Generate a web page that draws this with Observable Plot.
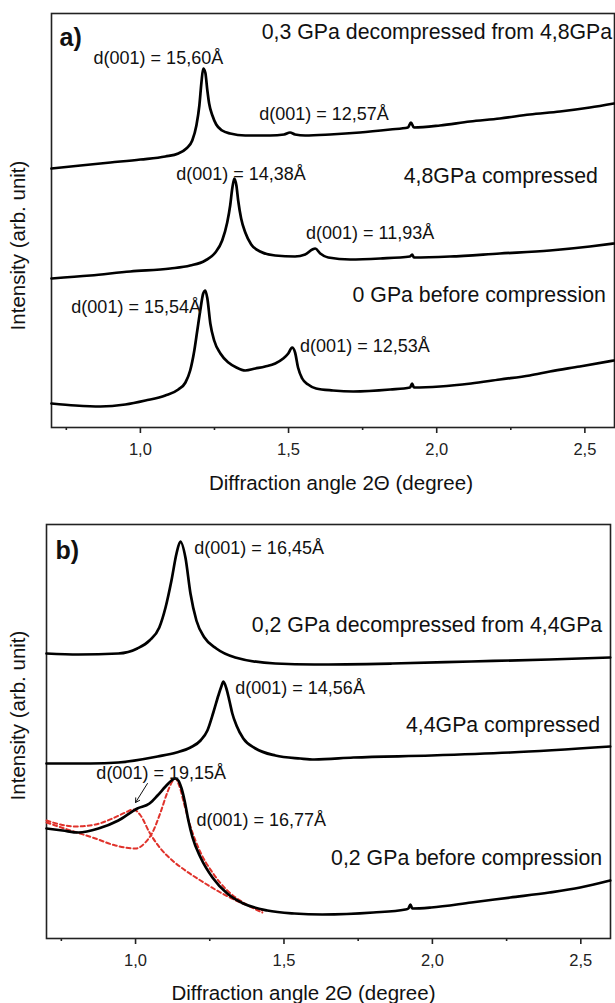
<!DOCTYPE html>
<html>
<head>
<meta charset="utf-8">
<script src="https://cdn.jsdelivr.net/npm/d3@7"></script>
<script src="https://cdn.jsdelivr.net/npm/@observablehq/plot@0.6"></script>
<style>
  html, body { margin: 0; padding: 0; background: #fff; }
  #wrap { position: relative; width: 615px; height: 1003px; overflow: hidden; background: #fff; }
  #pa, #pb { position: absolute; left: 0; }
  #pa { top: 0; }
  #pb { top: 500px; }
</style>
</head>
<body>
<div id="wrap"><div id="pa"></div><div id="pb"></div></div>
<script>
// ---------- Panel a) data : diffraction angle 2θ (degree) vs intensity (arb. unit) ----------
const aDecompX = [0.700,0.798,0.899,1.000,1.084,1.128,1.155,1.175,1.189,1.199,1.206,1.212,1.219,1.226,1.232,1.243,1.256,1.276,1.303,1.354,1.438,1.485,1.505,1.522,1.556,1.640,1.741,1.843,1.903,1.913,1.923,2.011,2.112,2.213,2.314,2.416,2.517,2.598];
const aDecompY = [259,262,265,268,271,274,279,287,302,322,345,359,355,337,324,312,303,297,294,292,292,293,295,293,292,293,295,298,300,305,300,302,306,309,313,316,320,324];

const aCompX = [0.700,0.831,0.966,1.101,1.168,1.219,1.253,1.276,1.293,1.303,1.310,1.317,1.324,1.330,1.340,1.354,1.374,1.404,1.455,1.522,1.556,1.580,1.590,1.607,1.634,1.708,1.809,1.910,1.917,1.923,2.045,2.213,2.382,2.517,2.598];
const aCompY = [149,152,156,159,162,167,175,187,205,222,239,249,242,227,209,195,183,176,172,171,173,178,179,174,170,168,169,171,173,170,171,174,177,181,184];

const aBeforeX = [0.700,0.781,0.865,0.949,1.017,1.084,1.128,1.152,1.168,1.182,1.192,1.202,1.212,1.219,1.226,1.236,1.249,1.270,1.297,1.324,1.354,1.388,1.421,1.455,1.482,1.499,1.512,1.522,1.532,1.546,1.566,1.593,1.650,1.718,1.843,1.910,1.917,1.923,2.011,2.116,2.213,2.314,2.382,2.483,2.598];
const aBeforeY = [24,22,21,23,27,32,38,45,57,77,97,117,134,137,129,104,87,74,65,60,57,59,61,64,69,74,80,75,60,49,43,39,37,36,38,40,44,40,41,44,48,52,56,61,67];

const aPeakText = ["d(001) = 15,60Å","d(001) = 12,57Å","d(001) = 14,38Å","d(001) = 11,93Å","d(001) = 15,54Å","d(001) = 12,53Å"];
const aPeakX = [0.842,1.401,1.121,1.559,0.767,1.539];
const aPeakY = [369,313,253,194,120,81];

const aSampleText = ["0,3 GPa decompressed from 4,8GPa","4,8GPa compressed","0 GPa before compression"];
const aSampleX = [2.592,2.544,2.571];
const aSampleY = [395,251,132];

// ---------- Panel b) data ----------
const bDecompX = [0.700,0.808,0.942,1.006,1.047,1.080,1.101,1.121,1.138,1.151,1.168,1.185,1.205,1.232,1.272,1.336,1.471,1.602,1.865,2.131,2.394,2.599];
const bDecompY = [285,284,285,290,298,311,331,358,385,397,381,345,318,301,290,281,275,274,275,277,279,281];

const bCompX = [0.700,0.848,0.942,1.074,1.138,1.185,1.219,1.242,1.262,1.279,1.289,1.296,1.306,1.316,1.326,1.340,1.363,1.404,1.471,1.555,1.602,1.734,1.996,2.262,2.599];
const bCompY = [175,175,176,182,186,191,198,208,226,243,252,257,250,238,225,213,200,190,183,180,179,181,183,186,192];

const bBeforeX = [0.700,0.754,0.808,0.875,0.942,1.006,1.047,1.074,1.101,1.121,1.134,1.144,1.155,1.165,1.178,1.192,1.219,1.259,1.309,1.363,1.444,1.535,1.629,1.801,1.909,1.919,1.926,1.932,1.996,2.131,2.262,2.394,2.498,2.599];
const bBeforeY = [110,108,106,110,118,130,135,143,152,158,160,158,150,138,118,101,81,61,45,35,28,25,24,26,29,30,34,30,31,36,41,46,51,58];

// fitted components (red dashed)
const bFit1X = [0.700,0.747,0.798,0.865,0.922,0.966,0.993,1.017,1.047,1.084,1.124,1.168,1.219,1.286,1.353,1.427];
const bFit1Y = [118,114,112,114,120,126,129,123,106,90,78,68,58,46,36,28];
const bFit2X = [0.700,0.781,0.865,0.932,1.000,1.033,1.057,1.084,1.107,1.124,1.134,1.148,1.165,1.185,1.219,1.259,1.309,1.363,1.427];
const bFit2Y = [116,108,100,93,90,96,106,126,146,157,160,152,133,112,86,66,48,36,26];

const bPeakText = ["d(001) = 16,45Å","d(001) = 14,56Å","d(001) = 19,15Å","d(001) = 16,77Å"];
const bPeakX = [1.198,1.336,0.868,1.205];
const bPeakY = [390,250,165,118];

const bSampleText = ["0,2 GPa decompressed from 4,4GPa","4,4GPa compressed","0,2 GPa before compression"];
const bSampleX = [2.572,2.565,2.572];
const bSampleY = [313,213,80];

const bArrow = [{x1: 1.040, y1: 155, x2: 1.000, y2: 136}];

const majorTicks = [1.0, 1.5, 2.0, 2.5];
const minorTicks = [0.75, 1.25, 1.75, 2.25];
const xDomain = [0.7, 2.6];
const yDomain = [0, 414];
const xLabel = "Diffraction angle 2Θ (degree)";
const yLabel = "Intensity (arb. unit)";

// ---------- helpers ----------
const FONT = "'Liberation Sans', Arial, Helvetica, sans-serif";
const zip = (xs, ys, s) => xs.map((x, i) => ({x, y: ys[i], s}));
const rowsOf = (list) => list.flatMap(([xs, ys, s]) => zip(xs, ys, s));
const comma = d => d.toFixed(1).replace(".", ",");

function panel({lines, fits, peakText, peakX, peakY, sampleText, sampleX, sampleY, tag, tagX, tagY,
                height, mt, mb, ml, mr, yldx, yldy, xldx, xldy, arrow}) {
  const marks = [
    Plot.frame({stroke: "#222", strokeWidth: 1.6}),
    Plot.axisX(majorTicks, {tickSize: 6, tickPadding: 10, tickFormat: comma, fontSize: 16.5, label: null, strokeWidth: 1.6, stroke: "#222", fill: "#222"}),
    Plot.axisX(minorTicks, {tickSize: 3, tickFormat: () => "", label: null, strokeWidth: 1.6, stroke: "#222"}),
  ];
  if (fits) marks.push(Plot.line(rowsOf(fits), {x: "x", y: "y", z: "s", stroke: "#e0322b", strokeWidth: 2, strokeDasharray: "4,3", curve: "monotone-x"}));
  marks.push(Plot.line(rowsOf(lines), {x: "x", y: "y", z: "s", stroke: "#000", strokeWidth: 2.7, curve: "monotone-x"}));
  if (arrow) marks.push(Plot.arrow(arrow, {x1: "x1", y1: "y1", x2: "x2", y2: "y2", stroke: "#111", strokeWidth: 1, headLength: 7}));
  marks.push(
    Plot.text(peakText, {x: (d, i) => peakX[i], y: (d, i) => peakY[i], text: d => d, textAnchor: "start", lineAnchor: "middle", fontSize: 18, fill: "#111"}),
    Plot.text(sampleText, {x: (d, i) => sampleX[i], y: (d, i) => sampleY[i], text: d => d, textAnchor: "end", lineAnchor: "middle", fontSize: 21.3, fill: "#111"}),
    Plot.text([tag], {x: tagX, y: tagY, text: d => d, textAnchor: "start", lineAnchor: "middle", fontSize: 25, fontWeight: "bold", fill: "#111"}),
    Plot.text([yLabel], {frameAnchor: "left", text: d => d, rotate: -90, dx: yldx, dy: yldy, lineAnchor: "middle", textAnchor: "middle", fontSize: 20.5, fill: "#111"}),
    Plot.text([xLabel], {frameAnchor: "bottom", text: d => d, dx: xldx, dy: xldy, lineAnchor: "middle", textAnchor: "middle", fontSize: 20.5, fill: "#111"})
  );
  return Plot.plot({
    width: 615, height,
    marginTop: mt, marginBottom: mb, marginLeft: ml, marginRight: mr,
    x: {domain: xDomain, label: null},
    y: {domain: yDomain, axis: null, label: null},
    style: {fontFamily: FONT, background: "transparent", overflow: "visible"},
    marks
  });
}

document.getElementById("pa").append(panel({
  lines: [[aDecompX, aDecompY, "decomp"], [aCompX, aCompY, "comp"], [aBeforeX, aBeforeY, "before"]],
  peakText: aPeakText, peakX: aPeakX, peakY: aPeakY,
  sampleText: aSampleText, sampleX: aSampleX, sampleY: aSampleY,
  tag: "a)", tagX: 0.727, tagY: 390,
  height: 500, mt: 13, mb: 73, ml: 51, mr: 1,
  yldx: -33, yldy: 25, xldx: 8, xldy: 56
}));

document.getElementById("pb").append(panel({
  lines: [[bDecompX, bDecompY, "decomp"], [bCompX, bCompY, "comp"], [bBeforeX, bBeforeY, "before"]],
  fits: [[bFit1X, bFit1Y, "f1"], [bFit2X, bFit2Y, "f2"]],
  peakText: bPeakText, peakX: bPeakX, peakY: bPeakY,
  sampleText: bSampleText, sampleX: bSampleX, sampleY: bSampleY,
  tag: "b)", tagX: 0.730, tagY: 388,
  height: 503, mt: 24, mb: 65, ml: 46, mr: 5,
  yldx: -28, yldy: -16, xldx: -25, xldy: 55,
  arrow: bArrow
}));
</script>
</body>
</html>
